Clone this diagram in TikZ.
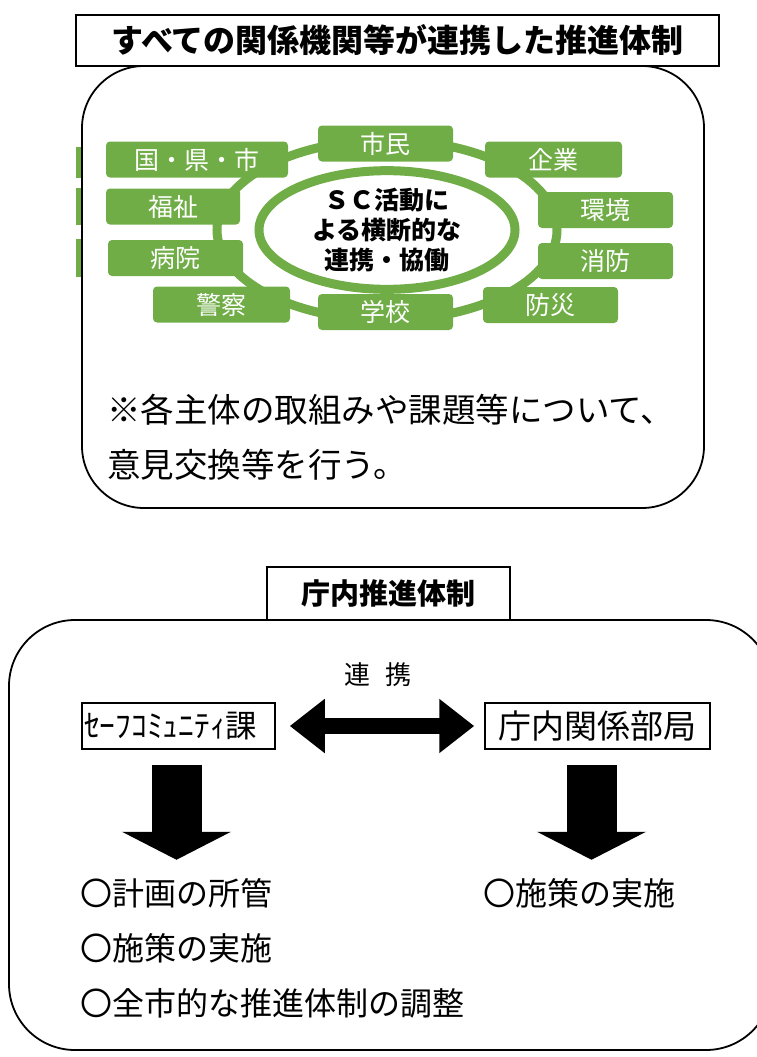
\documentclass[tikz,border=0pt]{standalone}
\usepackage{fontspec}
\setmainfont{Noto Sans CJK JP}
\usetikzlibrary{shapes.geometric,arrows.meta}
\definecolor{scgreen}{HTML}{70AD47}

\begin{document}
\begin{tikzpicture}[x=1pt,y=-1pt,
    frame/.style={draw, line width=1.8pt, rounded corners=62pt},
    titlebox/.style={draw, line width=1.2pt, fill=white, inner sep=0pt},
    member/.style={fill=scgreen, rounded corners=4pt, text=white, inner sep=0pt,
                   minimum width=#1, minimum height=36pt, font=\fontsize{25}{25}\selectfont},
    core/.style={ellipse, draw=scgreen, line width=9pt, fill=white, inner sep=0pt,
                 minimum width=256pt, minimum height=114pt, align=center,
                 font=\bfseries\fontsize{25}{30}\selectfont},
    unitbox/.style={draw, line width=1.5pt, inner sep=0pt, minimum height=46pt},
    item/.style={anchor=west, inner sep=0pt, font=\fontsize{32}{32}\selectfont},
    note/.style={anchor=west, inner sep=0pt, font=\fontsize{33.5}{33.5}\selectfont},
    bigarrow/.style={line width=16pt, {Triangle[width=52pt,length=35pt]}-{Triangle[width=52pt,length=35pt]}},
    downarrow/.style={line width=50pt, -{Triangle[width=108pt,length=28pt]}}]
  \useasboundingbox (0,0) rectangle (756,1057);

  % upper part
  \draw[frame] (82,66) rectangle (704,508);
  \node[titlebox, minimum width=643pt, minimum height=51pt,
        font=\bfseries\fontsize{32}{32}\selectfont] (alltitle) at (397.5,40.5) {すべての関係機関等が連携した推進体制};

  \fill[scgreen] (76,147) rectangle (81,178);
  \fill[scgreen] (76,188) rectangle (81,225);
  \fill[scgreen] (76,239) rectangle (81,277);

  \draw[scgreen, line width=9pt] (387,230) ellipse [x radius=170pt, y radius=90pt];

  \node[member=182pt] (kuni)     at (197,159.5)   {国・県・市};
  \node[member=135pt] (shimin)   at (385.5,143.5) {市民};
  \node[member=137pt] (kigyo)    at (553.5,159.5) {企業};
  \node[member=134pt] (fukushi)  at (173,206.5)   {福祉};
  \node[member=135pt] (kankyo)   at (605.5,210)   {環境};
  \node[member=135pt] (byoin)    at (175.5,258)   {病院};
  \node[member=135pt] (shobo)    at (605.5,261)   {消防};
  \node[member=137pt] (keisatsu) at (221.5,304.5) {警察};
  \node[member=135pt] (gakko)    at (385.5,312)   {学校};
  \node[member=135pt] (bosai)    at (550.5,305)   {防災};

  \node[core] (sc) at (387,230) {ＳＣ活動に\\よる横断的な\\連携・協働};

  \node[note] (note1) at (107,410) {※各主体の取組みや課題等について、};
  \node[note] (note2) at (107,465) {意見交換等を行う。};

  % lower part
  \draw[frame, rounded corners=66pt] (9,620) rectangle (772,1050);
  \node[titlebox, minimum width=243pt, minimum height=53pt,
        font=\bfseries\fontsize{29}{29}\selectfont] (chotitle) at (388.5,593.5) {庁内推進体制};

  \node[inner sep=0pt, font=\fontsize{26}{26}\selectfont] (renkei) at (378,675) {連\hspace{0.6em}携};

  \node[unitbox, minimum width=193pt, text width=189pt, align=left,
        font=\fontsize{31.5}{31.5}\selectfont] (sca) at (178.5,726) {ｾｰﾌｺﾐｭﾆﾃｨ課};
  \node[unitbox, minimum width=225pt, font=\fontsize{33}{33}\selectfont] (kyoku) at (597.5,726) {庁内関係部局};

  \draw[bigarrow, shorten <=14pt, shorten >=10pt] (sca.east) -- (kyoku.west);

  \coordinate (scadown)   at ([xshift=-2pt,yshift=-110pt]sca.south);
  \coordinate (kyokudown) at ([xshift=-6pt,yshift=-110pt]kyoku.south);
  \draw[downarrow] ([xshift=-2pt,yshift=-15pt]sca.south) -- (scadown);
  \draw[downarrow] ([xshift=-6pt,yshift=-15pt]kyoku.south) -- (kyokudown);

  \node[item] (plan)   at (80,893)  {〇計画の所管};
  \node[item] (exec1)  at (80,948)  {〇施策の実施};
  \node[item] (adjust) at (80,1003) {〇全市的な推進体制の調整};
  \node[item] (exec2)  at (483,893) {〇施策の実施};
\end{tikzpicture}
\end{document}
